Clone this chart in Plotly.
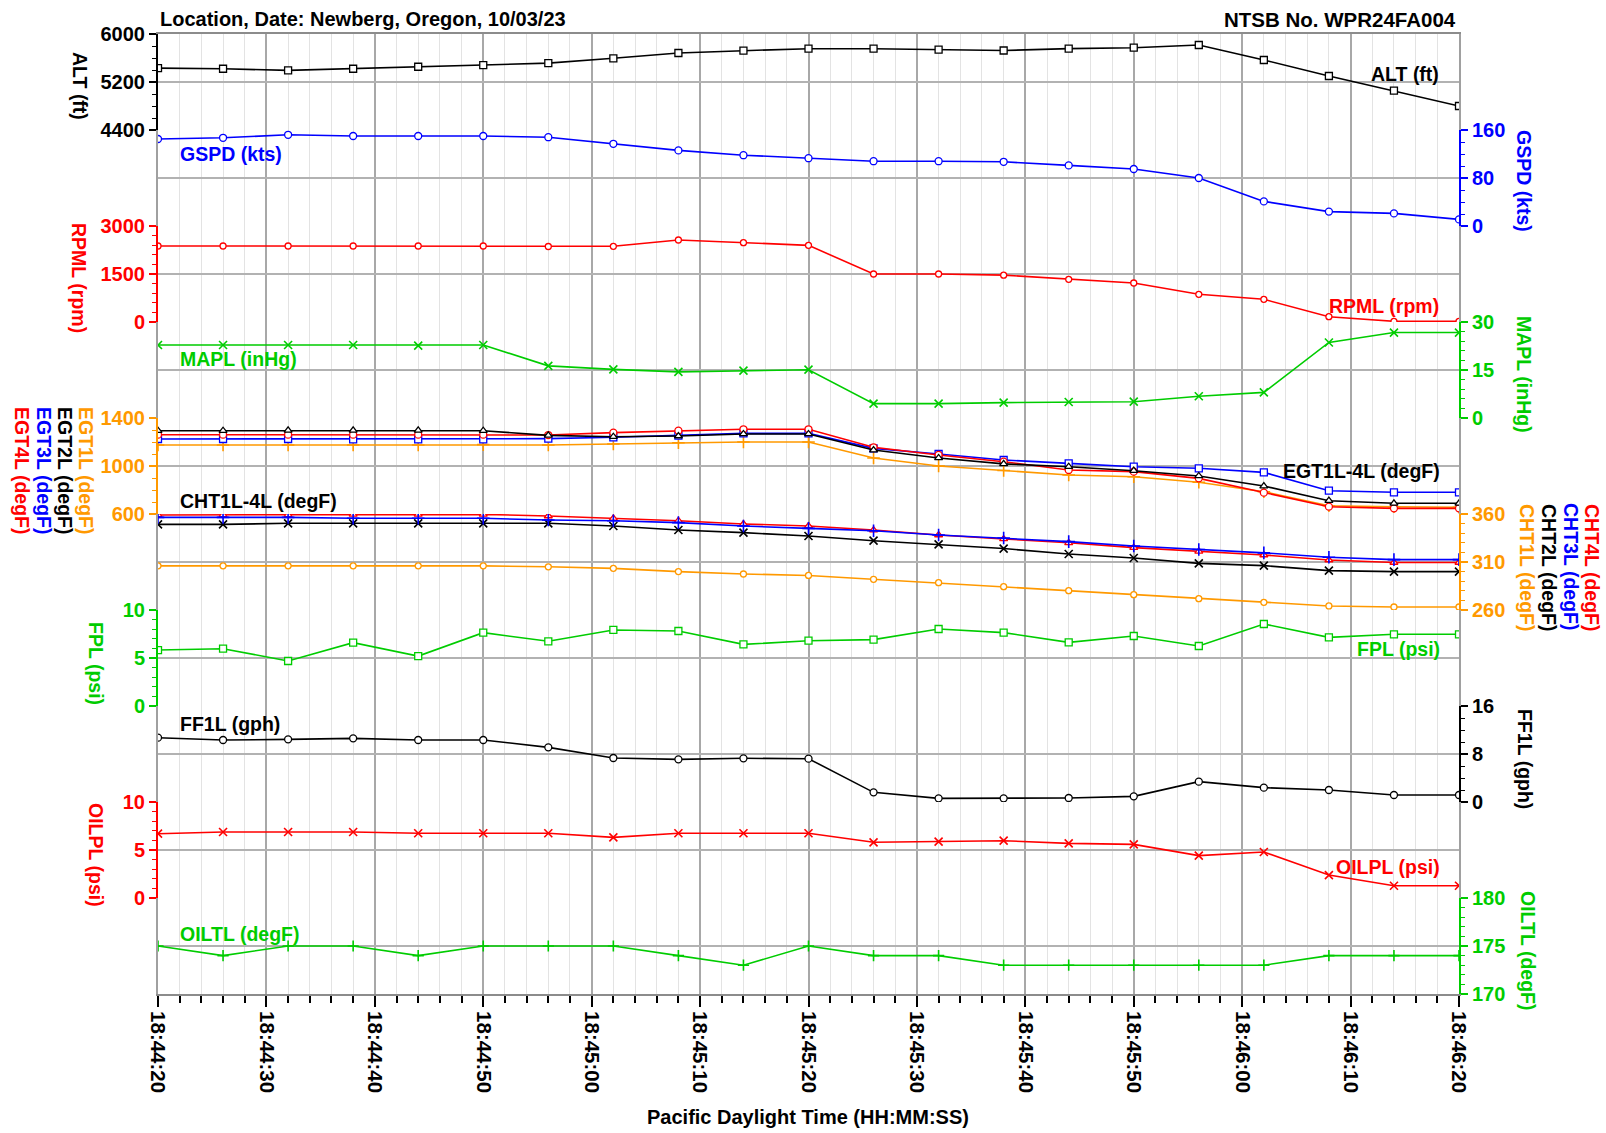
import plotly.graph_objects as go

FONT = "Liberation Sans, Arial, Helvetica, sans-serif"

# ---------------- data ----------------
times = [
    "2023-10-03 18:44:20", "2023-10-03 18:44:26", "2023-10-03 18:44:32", "2023-10-03 18:44:38",
    "2023-10-03 18:44:44", "2023-10-03 18:44:50", "2023-10-03 18:44:56", "2023-10-03 18:45:02",
    "2023-10-03 18:45:08", "2023-10-03 18:45:14", "2023-10-03 18:45:20", "2023-10-03 18:45:26",
    "2023-10-03 18:45:32", "2023-10-03 18:45:38", "2023-10-03 18:45:44", "2023-10-03 18:45:50",
    "2023-10-03 18:45:56", "2023-10-03 18:46:02", "2023-10-03 18:46:08", "2023-10-03 18:46:14",
    "2023-10-03 18:46:20",
]
x_tick_start = "2023-10-03 18:44:20"

alt_ft = [5432, 5421, 5393, 5421, 5454, 5481, 5515, 5595, 5683, 5722, 5755,
          5755, 5738, 5725, 5756, 5772, 5817, 5567, 5300, 5056, 4800]
gspd_kts = [145, 147, 152, 150, 150, 150, 148, 137, 126, 118, 113,
            108, 108, 107, 101, 95, 80, 41, 24, 21, 11]
rpml_rpm = [2375, 2375, 2375, 2375, 2375, 2375, 2360, 2365, 2563, 2479, 2396,
            1500, 1500, 1464, 1334, 1219, 865, 709, 166, 21, 21]
mapl_inhg = [22.8, 22.8, 22.8, 22.8, 22.6, 22.8, 16.3, 15.2, 14.4, 14.8, 15.1,
             4.5, 4.5, 4.8, 5.0, 5.1, 6.8, 8.0, 23.6, 26.7, 26.7]
egt1l = [1175, 1175, 1175, 1175, 1175, 1178, 1175, 1183, 1194, 1200, 1200,
         1067, 1000, 962, 925, 911, 864, 786, 669, 661, 656]
egt2l = [1294, 1294, 1297, 1297, 1297, 1294, 1255, 1244, 1250, 1267, 1267,
         1133, 1067, 1018, 994, 961, 917, 833, 711, 689, 689]
egt3l = [1225, 1225, 1225, 1222, 1222, 1222, 1228, 1239, 1253, 1272, 1272,
         1147, 1100, 1050, 1022, 994, 981, 947, 794, 781, 781]
egt4l = [1261, 1261, 1261, 1261, 1261, 1261, 1258, 1278, 1294, 1306, 1306,
         1156, 1092, 1036, 967, 953, 897, 778, 661, 647, 647]
cht1l = [306, 306, 306, 306, 306, 306, 305, 303.4, 300, 297.5, 296,
         292, 288.5, 284.3, 280.1, 276, 271.8, 268, 264.2, 263.1, 263.1]
cht2l = [349.2, 349.2, 350.3, 350.3, 350.3, 350.3, 350.3, 347.5, 343.3, 340.6, 337.1,
         332.2, 328.4, 324, 318.3, 314.2, 308.6, 306.2, 301, 300, 300]
cht3l = [356.5, 356.5, 356.5, 355.5, 355.5, 355.5, 353.8, 353, 351, 347.5, 345,
         342.6, 338.1, 335, 331.2, 326.7, 323, 319.5, 314.9, 312.5, 312.5]
cht4l = [359, 359, 359, 359.6, 359.6, 359.6, 357.9, 355.5, 353, 349.6, 347.5,
         343.3, 338.1, 334, 330, 325, 321, 317.3, 312.1, 309.5, 309.5]
fpl_psi = [5.83, 5.97, 4.69, 6.6, 5.2, 7.64, 6.74, 7.92, 7.81, 6.42, 6.8,
           6.91, 8.02, 7.64, 6.63, 7.29, 6.25, 8.54, 7.15, 7.47, 7.47]
ff1l_gph = [10.72, 10.33, 10.44, 10.61, 10.33, 10.33, 9.11, 7.33, 7.11, 7.28, 7.22,
            1.61, 0.61, 0.61, 0.67, 0.94, 3.39, 2.39, 2.0, 1.17, 1.17]
oilpl_psi = [6.7, 6.87, 6.87, 6.87, 6.74, 6.74, 6.74, 6.32, 6.74, 6.74, 6.74,
             5.8, 5.87, 5.97, 5.69, 5.59, 4.41, 4.79, 2.39, 1.28, 1.28]
oiltl_degf = [175, 174, 175, 175, 174, 175, 175, 175, 174, 173, 175,
              174, 174, 173, 173, 173, 173, 173, 174, 174, 174]

# ---------------- style ----------------
BLACK, BLUE, RED, GREEN, ORANGE = "#000000", "#0000FF", "#FF0000", "#00CC00", "#FF9900"
GRID = "#B2B2B2"

fig = go.Figure()
# base subplot (frame only)
fig.add_trace(go.Scatter(x=[], y=[], xaxis="x", yaxis="y", showlegend=False, hoverinfo="skip"))


def add(vals, axis, color, symbol, size, filled=True):
    if filled:
        marker = dict(symbol=symbol, size=size, color="white", line=dict(color=color, width=1.3))
    else:
        marker = dict(symbol=symbol, size=size, color=color, line=dict(color=color, width=1.6))
    fig.add_trace(go.Scatter(x=times, y=vals, xaxis="x", yaxis=axis, mode="lines+markers",
                             line=dict(color=color, width=1.6), marker=marker, showlegend=False))


add(alt_ft, "y2", BLACK, "square", 7)
add(gspd_kts, "y3", BLUE, "circle", 7)
add(rpml_rpm, "y4", RED, "circle", 6)
add(mapl_inhg, "y5", GREEN, "x-thin", 8, filled=False)
add(egt1l, "y6", ORANGE, "cross-thin", 9, filled=False)
add(egt3l, "y6", BLUE, "square", 7)
add(egt4l, "y6", RED, "circle", 7)
add(egt2l, "y6", BLACK, "triangle-up", 7)
add(cht1l, "y7", ORANGE, "circle", 6)
add(cht2l, "y7", BLACK, "x-thin", 8, filled=False)
add(cht4l, "y7", RED, "triangle-up", 7)
add(cht3l, "y7", BLUE, "cross-thin", 9, filled=False)
add(fpl_psi, "y8", GREEN, "square", 7)
add(ff1l_gph, "y9", BLACK, "circle", 7)
add(oilpl_psi, "y10", RED, "x-thin", 8, filled=False)
add(oiltl_degf, "y11", GREEN, "cross-thin", 8, filled=False)


def yax(k, rng, dtick, mdtick, side, color):
    return dict(
        domain=[round(1 - (k + 1) * 0.1, 4), round(1 - k * 0.1, 4)], range=rng, tick0=rng[0], dtick=dtick,
        anchor="x", side=side, showline=True, linecolor=color, linewidth=2,
        ticks="outside", ticklen=7, tickwidth=1.5, tickcolor=color,
        tickfont=dict(family=FONT, size=20, color=color, weight="bold"),
        showgrid=True, gridcolor=GRID, gridwidth=1.5, zeroline=False,
        minor=dict(tick0=rng[0], dtick=mdtick, ticks="outside", ticklen=4, tickwidth=1.3,
                   tickcolor=color, showgrid=False),
        fixedrange=True,
    )


layout = dict(
    width=1606, height=1133,
    margin=dict(l=158, r=147, t=34, b=139, pad=0),
    paper_bgcolor="white", plot_bgcolor="white",
    showlegend=False, hovermode=False,
    font=dict(family=FONT, size=19, color="black", weight="bold"),
    xaxis=dict(
        type="date", range=[times[0], times[-1]], anchor="y",
        tick0=x_tick_start, dtick=10000, tickformat="%H:%M:%S", tickangle=90,
        ticks="outside", ticklen=11, tickwidth=1.5, tickcolor="black",
        tickfont=dict(family=FONT, size=20.5, color="black", weight="bold"),
        showline=True, linecolor="#8C8C8C", linewidth=2, mirror=True,
        showgrid=True, gridcolor="#A8A8A8", gridwidth=1.5, zeroline=False,
        minor=dict(dtick=2000, ticks="outside", ticklen=7, tickwidth=1.5, tickcolor="black",
                   showgrid=True, gridcolor="#E3E3E3", gridwidth=1),
        fixedrange=True,
    ),
    yaxis=dict(domain=[0, 1], range=[0, 1], showgrid=False, showticklabels=False, ticks="",
               showline=True, mirror=True, linecolor="#A0A0A0", linewidth=1.5, zeroline=False,
               fixedrange=True),
    yaxis2=yax(0, [4400, 6000], 800, 200, "left", BLACK),
    yaxis3=yax(1, [0, 160], 80, 20, "right", BLUE),
    yaxis4=yax(2, [0, 3000], 1500, 300, "left", RED),
    yaxis5=yax(3, [0, 30], 15, 3, "right", GREEN),
    yaxis6=yax(4, [600, 1400], 400, 100, "left", ORANGE),
    yaxis7=yax(5, [260, 360], 50, 10, "right", ORANGE),
    yaxis8=yax(6, [0, 10], 5, 1, "left", GREEN),
    yaxis9=yax(7, [0, 16], 8, 2, "right", BLACK),
    yaxis10=yax(8, [0, 10], 5, 1, "left", RED),
    yaxis11=yax(9, [170, 180], 5, 1, "right", GREEN),
)
fig.update_layout(**layout)

# ---------------- text ----------------
X0, X1, YT, YB = 158.0, 1459.0, 34.0, 994.0


def px(x):
    return (x - X0) / (X1 - X0)


def py(y):
    return (YB - y) / (YB - YT)


def note(text, x, y, color, xanchor="center", angle=0, size=19.5):
    fig.add_annotation(text=text, x=px(x), y=py(y), xref="paper", yref="paper",
                       xanchor=xanchor, yanchor="middle", textangle=angle, showarrow=False,
                       font=dict(family=FONT, size=size, color=color, weight="bold"))


# header
note("Location, Date: Newberg, Oregon, 10/03/23", 158, 19, BLACK, xanchor="left", size=20)
note("NTSB No. WPR24FA004", 1458, 19, BLACK, xanchor="right", size=20.5)
note("Pacific Daylight Time (HH:MM:SS)", 808, 1117, BLACK, size=20)

# in-plot series labels
note("ALT (ft)", 1441, 74, BLACK, xanchor="right")
note("GSPD (kts)", 178, 154, BLUE, xanchor="left")
note("RPML (rpm)", 1441, 306, RED, xanchor="right")
note("MAPL (inHg)", 178, 359, GREEN, xanchor="left")
note("EGT1L-4L (degF)", 1442, 471, BLACK, xanchor="right")
note("CHT1L-4L (degF)", 178, 501, BLACK, xanchor="left")
note("FPL (psi)", 1442, 649, GREEN, xanchor="right")
note("FF1L (gph)", 178, 724, BLACK, xanchor="left")
note("OILPL (psi)", 1442, 867, RED, xanchor="right")
note("OILTL (degF)", 178, 934, GREEN, xanchor="left")

# axis titles (rotated, reading top to bottom)
note("ALT (ft)", 80, 86, BLACK, angle=90)
note("RPML (rpm)", 79, 278, RED, angle=90)
note("EGT1L (degF)", 86, 470, ORANGE, angle=90)
note("EGT2L (degF)", 65, 470, BLACK, angle=90)
note("EGT3L (degF)", 44, 470, BLUE, angle=90)
note("EGT4L (degF)", 22, 470, RED, angle=90)
note("FPL (psi)", 96, 663, GREEN, angle=90)
note("OILPL (psi)", 96, 855, RED, angle=90)

note("GSPD (kts)", 1524, 181, BLUE, angle=90)
note("MAPL (inHg)", 1524, 374, GREEN, angle=90)
note("CHT1L (degF)", 1527, 567, ORANGE, angle=90)
note("CHT2L (degF)", 1549, 567, BLACK, angle=90)
note("CHT3L (degF)", 1571, 567, BLUE, angle=90)
note("CHT4L (degF)", 1592, 567, RED, angle=90)
note("FF1L (gph)", 1525, 759, BLACK, angle=90)
note("OILTL (degF)", 1528, 951, GREEN, angle=90)

fig.write_html("out.html", config={"displayModeBar": False},
               post_script="document.body.style.margin='0px';")
